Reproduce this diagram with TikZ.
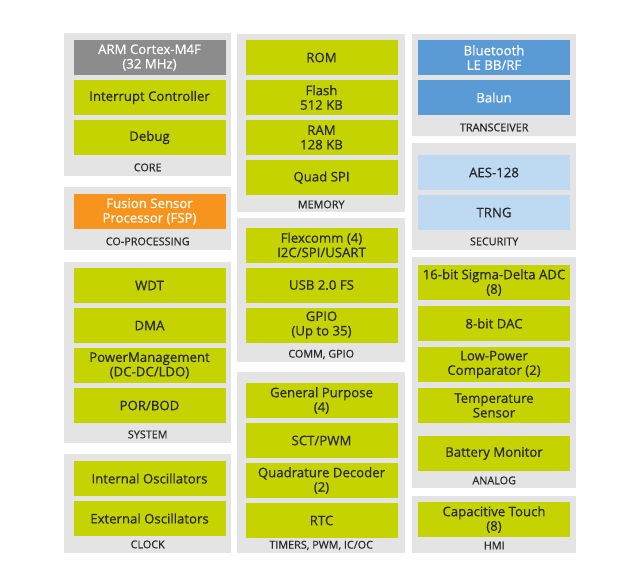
\documentclass[tikz,border=0pt]{standalone}
\usepackage{fontspec}
\setsansfont{Open Sans}
\newfontfamily\blockfont{Open Sans}[FakeBold=0.6]
\usepackage{xcolor}
\definecolor{chipGreen}{HTML}{C5D400}
\definecolor{coreGray}{HTML}{8C8C8C}
\definecolor{fspOrange}{HTML}{F7941E}
\definecolor{rfBlue}{HTML}{5B9BD5}
\definecolor{secBlue}{HTML}{BDDAF2}
\definecolor{panelGray}{HTML}{E4E4E4}
\definecolor{darkText}{HTML}{2A2A2A}
\usepackage{tikz}
\usetikzlibrary{positioning}
\tikzset{
    % Base style for all blocks
    block base/.style={
        font=\blockfont\fontsize{13.2}{14.5}\selectfont,
        align=center,
        inner sep=0pt,
        minimum width=152pt,
        minimum height=35pt,
    },
    % Green peripheral blocks
    block/.style={block base, fill=chipGreen, text=darkText},
    % Processor core block
    core block/.style={block base, fill=coreGray, text=white},
    % Co-processor block
    fsp block/.style={block base, fill=fspOrange, text=white},
    % Radio blocks
    rf block/.style={block base, fill=rfBlue, text=white},
    % Security blocks
    sec block/.style={block base, fill=secBlue, text=darkText},
    % Gray group panels
    panel/.style={
        fill=panelGray,
        inner sep=0pt,
        anchor=north west,
    },
    % Group caption
    group label/.style={
        font=\blockfont\fontsize{10.8}{12}\selectfont,
        text=darkText,
        inner sep=0pt,
    },
}

\begin{document}
\begin{tikzpicture}[x=1pt, y=-1pt, node distance=40pt]
    \useasboundingbox (0,0) rectangle (640,586);

    % panels
    \node (core) [panel, minimum width=167, minimum height=143] at (64,33) {};
    \node (coproc) [panel, minimum width=167, minimum height=63] at (64,187) {};
    \node (system) [panel, minimum width=167, minimum height=181] at (64,262) {};
    \node (clock) [panel, minimum width=167, minimum height=99] at (64,454) {};
    \node (memory) [panel, minimum width=168, minimum height=178] at (237,34) {};
    \node (comm) [panel, minimum width=168, minimum height=144] at (237,218) {};
    \node (timers) [panel, minimum width=168, minimum height=181] at (237,372) {};
    \node (transceiver) [panel, minimum width=164, minimum height=102] at (412,34) {};
    \node (security) [panel, minimum width=164, minimum height=107] at (412,143) {};
    \node (analog) [panel, minimum width=164, minimum height=231] at (412,257) {};
    \node (hmi) [panel, minimum width=164, minimum height=57] at (412,496) {};

    % left column
    \node (arm) [core block] at (149.5,57.5) {ARM Cortex-M4F\\(32 MHz)};
    \node (irq) [block, below of=arm] {Interrupt Controller};
    \node (debug) [block, below of=irq] {Debug};
    \node (fsp) [fsp block] at (149.5,211.5) {Fusion Sensor\\Processor (FSP)};
    \node (wdt) [block] at (149.5,285.5) {WDT};
    \node (dma) [block, below of=wdt] {DMA};
    \node (pmu) [block, below of=dma] {PowerManagement\\(DC-DC/LDO)};
    \node (por) [block, below of=pmu] {POR/BOD};
    \node (intosc) [block] at (149.5,478.5) {Internal Oscillators};
    \node (extosc) [block, below of=intosc] {External Oscillators};

    % middle column
    \node (rom) [block] at (321.5,57.5) {ROM};
    \node (flash) [block, below of=rom] {Flash\\512 KB};
    \node (ram) [block, below of=flash] {RAM\\128 KB};
    \node (qspi) [block, below of=ram] {Quad SPI};
    \node (flexcomm) [block] at (321.5,245) {Flexcomm (4)\\I2C/SPI/USART};
    \node (usb) [block, below of=flexcomm] {USB 2.0 FS};
    \node (gpio) [block, below of=usb] {GPIO\\(Up to 35)};
    \node (gpt) [block] at (321.5,400.5) {General Purpose\\(4)};
    \node (sct) [block, below of=gpt] {SCT/PWM};
    \node (qdec) [block, below of=sct] {Quadrature Decoder\\(2)};
    \node (rtc) [block, below of=qdec] {RTC};

    % right column
    \node (ble) [rf block] at (494,57.5) {Bluetooth\\LE BB/RF};
    \node (balun) [rf block, below of=ble] {Balun};
    \node (aes) [sec block] at (494,172.5) {AES-128};
    \node (trng) [sec block, below of=aes] {TRNG};
    \node (adc) [block] at (494,282.5) {16-bit Sigma-Delta ADC\\(8)};
    \node (dac) [block, below of=adc, yshift=-1pt] {8-bit DAC};
    \node (cmp) [block, below of=dac, yshift=-1pt] {Low-Power\\Comparator (2)};
    \node (temp) [block, below of=cmp, yshift=-1pt] {Temperature\\Sensor};
    \node (batt) [block, below of=temp, yshift=-8pt] {Battery Monitor};
    \node (touch) [block] at (494,519.5) {Capacitive Touch\\(8)};

    % group captions
    \node (corelbl) [group label] at ([yshift=9pt]core.south) {CORE};
    \node (coproclbl) [group label] at ([yshift=9pt]coproc.south) {CO-PROCESSING};
    \node (systemlbl) [group label] at ([yshift=9pt]system.south) {SYSTEM};
    \node (clocklbl) [group label] at ([yshift=9pt]clock.south) {CLOCK};
    \node (memorylbl) [group label] at ([yshift=8pt]memory.south) {MEMORY};
    \node (commlbl) [group label] at ([yshift=8pt]comm.south) {COMM, GPIO};
    \node (timerslbl) [group label] at ([yshift=8pt]timers.south) {TIMERS, PWM, IC/OC};
    \node (transceiverlbl) [group label] at ([yshift=9pt]transceiver.south) {TRANSCEIVER};
    \node (securitylbl) [group label] at ([yshift=9pt]security.south) {SECURITY};
    \node (analoglbl) [group label] at ([yshift=8pt]analog.south) {ANALOG};
    \node (hmilbl) [group label] at ([yshift=8pt]hmi.south) {HMI};
\end{tikzpicture}
\end{document}
